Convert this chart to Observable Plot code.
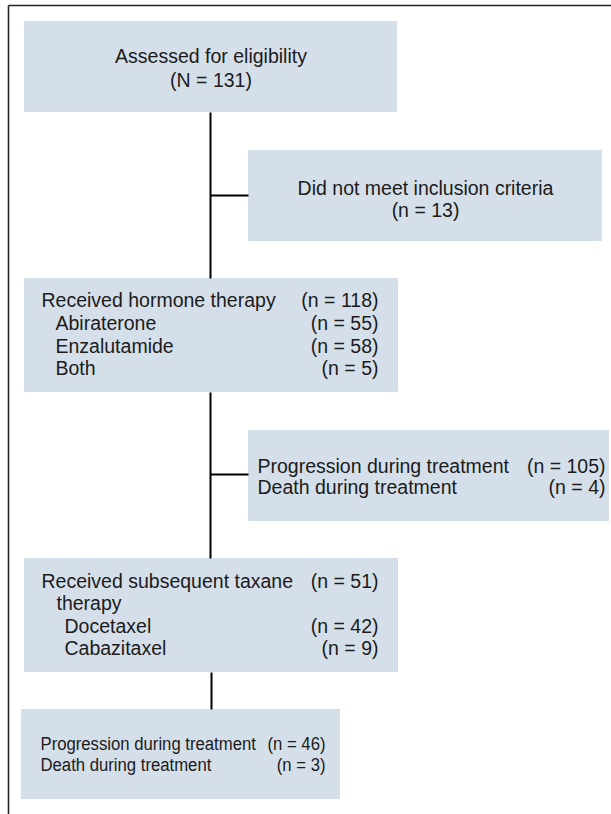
<!DOCTYPE html>
<html><head><meta charset="utf-8">
<script src="https://cdn.jsdelivr.net/npm/d3@7"></script>
<script src="https://cdn.jsdelivr.net/npm/@observablehq/plot@0.6"></script>
<style>html,body{margin:0;padding:0;background:#fff}</style>
</head><body><div id="chart"></div>
<script>
// ---- data ----
const stages = ["Assessed for eligibility", "Did not meet inclusion criteria", "Received hormone therapy", "Progression/death on hormone therapy", "Received subsequent taxane therapy", "Progression/death on taxane therapy"];
const stageCounts = [131, 13, 118, null, 51, null];
const hormoneAgents = ["Abiraterone", "Enzalutamide", "Both"];
const hormoneCounts = [55, 58, 5];
const taxaneAgents = ["Docetaxel", "Cabazitaxel"];
const taxaneCounts = [42, 9];
const outcomeLabels = ["Progression during treatment", "Death during treatment"];
const hormoneOutcomeCounts = [105, 4];
const taxaneOutcomeCounts = [46, 3];

// ---- layout (pixel space) ----
const W = 611, H = 814;
const boxes = [
  {x1: 24, x2: 397, y1: 21, y2: 112},
  {x1: 248, x2: 602, y1: 150, y2: 241},
  {x1: 24, x2: 398, y1: 278, y2: 392},
  {x1: 248, x2: 609, y1: 430, y2: 521},
  {x1: 24, x2: 398, y1: 558, y2: 672},
  {x1: 21, x2: 340, y1: 709, y2: 799}
];
const fill = "#d5dfea";
const ink = "#1b1b1b";
const font = "Liberation Sans, Arial, Helvetica, sans-serif";
const MAIN_SIZE = 19.5, NARROW_SIZE = 19;

const nTxt = (c, big) => `(${big ? "N" : "n"} = ${c})`;
const texts = [];
const cx = b => (b.x1 + b.x2) / 2;
// box 1
texts.push({t: stages[0], x: cx(boxes[0]), y: 56, a: "middle", f: "main"});
texts.push({t: nTxt(stageCounts[0], true), x: cx(boxes[0]), y: 80, a: "middle", f: "main"});
// box 2
texts.push({t: stages[1], x: cx(boxes[1]), y: 188, a: "middle", f: "main"});
texts.push({t: nTxt(stageCounts[1]), x: cx(boxes[1]), y: 210, a: "middle", f: "main"});
// box 3
const rx = 378;
const b3y = [300, 323, 346, 368];
texts.push({t: stages[2], x: 41, y: b3y[0], a: "start", f: "main"});
texts.push({t: nTxt(stageCounts[2]), x: rx, y: b3y[0], a: "end", f: "main"});
hormoneAgents.forEach((s, i) => {
  texts.push({t: s, x: 55, y: b3y[i + 1], a: "start", f: "main"});
  texts.push({t: nTxt(hormoneCounts[i]), x: rx, y: b3y[i + 1], a: "end", f: "main"});
});
// box 4
const b4y = [466, 487];
outcomeLabels.forEach((s, i) => {
  texts.push({t: s, x: 257, y: b4y[i], a: "start", f: "main"});
  texts.push({t: nTxt(hormoneOutcomeCounts[i]), x: 605, y: b4y[i], a: "end", f: "main"});
});
// box 5
const b5y = [581, 603, 626, 648];
texts.push({t: "Received subsequent taxane", x: 41, y: b5y[0], a: "start", f: "main"});
texts.push({t: nTxt(stageCounts[4]), x: rx, y: b5y[0], a: "end", f: "main"});
texts.push({t: "therapy", x: 56, y: b5y[1], a: "start", f: "main"});
taxaneAgents.forEach((s, i) => {
  texts.push({t: s, x: 64, y: b5y[i + 2], a: "start", f: "main"});
  texts.push({t: nTxt(taxaneCounts[i]), x: rx, y: b5y[i + 2], a: "end", f: "main"});
});
// box 6 (condensed)
const b6y = [743, 764];
outcomeLabels.forEach((s, i) => {
  texts.push({t: s, x: 40, y: b6y[i], a: "start", f: "narrow"});
  texts.push({t: nTxt(taxaneOutcomeCounts[i]), x: 325, y: b6y[i], a: "end", f: "narrow"});
});

const links = [
  {x1: 210, y1: 112, x2: 210, y2: 278},
  {x1: 210, y1: 195, x2: 248, y2: 195},
  {x1: 210, y1: 392, x2: 210, y2: 558},
  {x1: 210, y1: 474, x2: 248, y2: 474},
  {x1: 211, y1: 672, x2: 211, y2: 709}
];
const frame = [
  {x1: 8, y1: 5, x2: W, y2: 5},
  {x1: 8, y1: 5, x2: 8, y2: H}
];

const textMarks = [];
for (const f of ["main", "narrow"]) {
  for (const a of ["start", "middle", "end"]) {
    const sub = texts.filter(d => d.f === f && d.a === a);
    if (!sub.length) continue;
    textMarks.push(Plot.text(sub, {
      x: "x", y: "y", text: "t", textAnchor: a, fill: ink,
      fontSize: f === "main" ? MAIN_SIZE : NARROW_SIZE,
      fontFamily: font
    }));
  }
}

const chart = Plot.plot({
  width: W, height: H,
  margin: 0,
  x: {domain: [0, W], range: [0, W], axis: null},
  y: {domain: [0, H], range: [0, H], axis: null},
  style: {background: "#fff"},
  marks: [
    Plot.link(frame, {x1: "x1", y1: "y1", x2: "x2", y2: "y2", stroke: "#222", strokeWidth: 1.6}),
    Plot.rect(boxes, {x1: "x1", x2: "x2", y1: "y1", y2: "y2", fill}),
    Plot.link(links, {x1: "x1", y1: "y1", x2: "x2", y2: "y2", stroke: "#000", strokeWidth: 2}),
    ...textMarks
  ]
});
// horizontally condense the bottom box's text (reference uses a narrow face)
chart.querySelectorAll(`g[font-size="${NARROW_SIZE}"] text`).forEach(el => {
  const tr = el.getAttribute("transform");
  if (tr && tr.includes("translate")) {
    el.setAttribute("transform", tr + " scale(0.88,1)");
  } else {
    const x = +el.getAttribute("x") || 0, y = +el.getAttribute("y") || 0;
    el.removeAttribute("x"); el.removeAttribute("y");
    el.setAttribute("transform", `translate(${x},${y}) scale(0.88,1)`);
  }
});
document.getElementById("chart").appendChild(chart);
</script>
</body></html>
